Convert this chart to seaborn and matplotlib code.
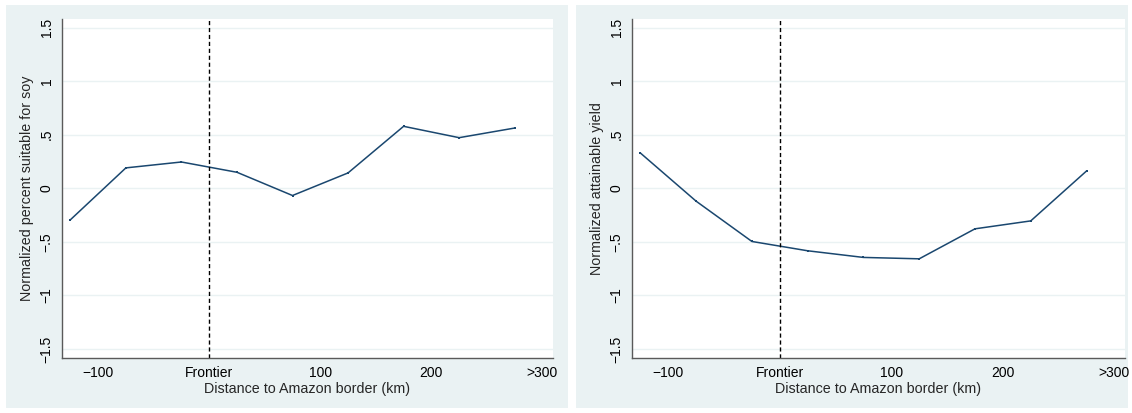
import matplotlib
matplotlib.use("Agg")
import matplotlib.pyplot as plt
from matplotlib.patches import Rectangle
import seaborn as sns
import pandas as pd

# distance bins (km, bin centres) and the two normalized series
distance = [-125, -75, -25, 25, 75, 125, 175, 225, 275]
soy_suitable = [-0.295, 0.19, 0.245, 0.149, -0.068, 0.143, 0.578, 0.472, 0.562]
attainable_yield = [0.329, -0.121, -0.497, -0.584, -0.646, -0.659, -0.379, -0.305, 0.161]

x_ticks = [-100, 0, 100, 200, 300]
x_tick_labels = ["\u2212100", "Frontier", "100", "200", ">300"]
y_ticks = [-1.5, -1, -0.5, 0, 0.5, 1, 1.5]
y_tick_labels = ["\u22121.5", "\u22121", "\u2212.5", "0", ".5", "1", "1.5"]

W, H = 1132, 413
BG = "#eaf2f3"
NAVY = "#1a476f"
AXIS = "#5a5a5a"


def px_box(x0, y0, x1, y1):
    """pixel box (top-left origin) -> figure fraction rect"""
    return [x0 / W, 1 - y1 / H, (x1 - x0) / W, (y1 - y0) / H]


def draw_panel(ax, values, ylabel):
    df = pd.DataFrame({"dist": distance, "val": values})
    sns.lineplot(data=df, x="dist", y="val", ax=ax, color=NAVY,
                 linewidth=1.1, marker="s", markersize=1.7,
                 markeredgewidth=0, sort=False)
    ax.axvline(0, color="black", linewidth=1.0, linestyle=(0, (3, 2)))
    ax.set_xlim(-132.5, 309.5)
    ax.set_ylim(-1.585, 1.58)
    ax.set_xticks(x_ticks)
    ax.set_xticklabels(x_tick_labels)
    ax.set_yticks(y_ticks)
    ax.set_yticklabels(y_tick_labels, rotation=90, va="center")
    ax.grid(axis="y", color=BG, linewidth=1.0)
    ax.grid(axis="x", visible=False)
    ax.set_axisbelow(True)
    for side in ["top", "right"]:
        ax.spines[side].set_visible(False)
    for side in ["left", "bottom"]:
        ax.spines[side].set_color(AXIS)
        ax.spines[side].set_linewidth(1.0)
    ax.tick_params(axis="both", direction="out", length=4, width=1.0,
                   color=AXIS, labelsize=10, labelcolor="black", pad=2)
    ax.set_xlabel("Distance to Amazon border (km)", fontsize=10.3, labelpad=1)
    ax.set_ylabel(ylabel, fontsize=10.3, labelpad=4)
    ax.set_facecolor("white")


def main():
    sns.set_style("white")
    plt.rcParams["font.family"] = ["Liberation Sans", "DejaVu Sans"]

    fig = plt.figure(figsize=(W / 100, H / 100), dpi=100)
    fig.patch.set_facecolor("white")

    # outer graph regions (Stata style), kept behind the plot axes
    for x0, x1 in [(6, 567.5), (576, 1128)]:
        r = px_box(x0, 5, x1, 408)
        fig.patches.append(Rectangle((r[0], r[1]), r[2], r[3],
                                     transform=fig.transFigure,
                                     facecolor=BG, edgecolor="none",
                                     zorder=-10))

    ax1 = fig.add_axes(px_box(62, 19, 553, 358))
    ax2 = fig.add_axes(px_box(632, 19, 1125, 358))

    draw_panel(ax1, soy_suitable, "Normalized percent suitable for soy")
    draw_panel(ax2, attainable_yield, "Normalized attainable yield")

    fig.savefig("out.png", dpi=100, facecolor="white")


if __name__ == "__main__":
    main()
